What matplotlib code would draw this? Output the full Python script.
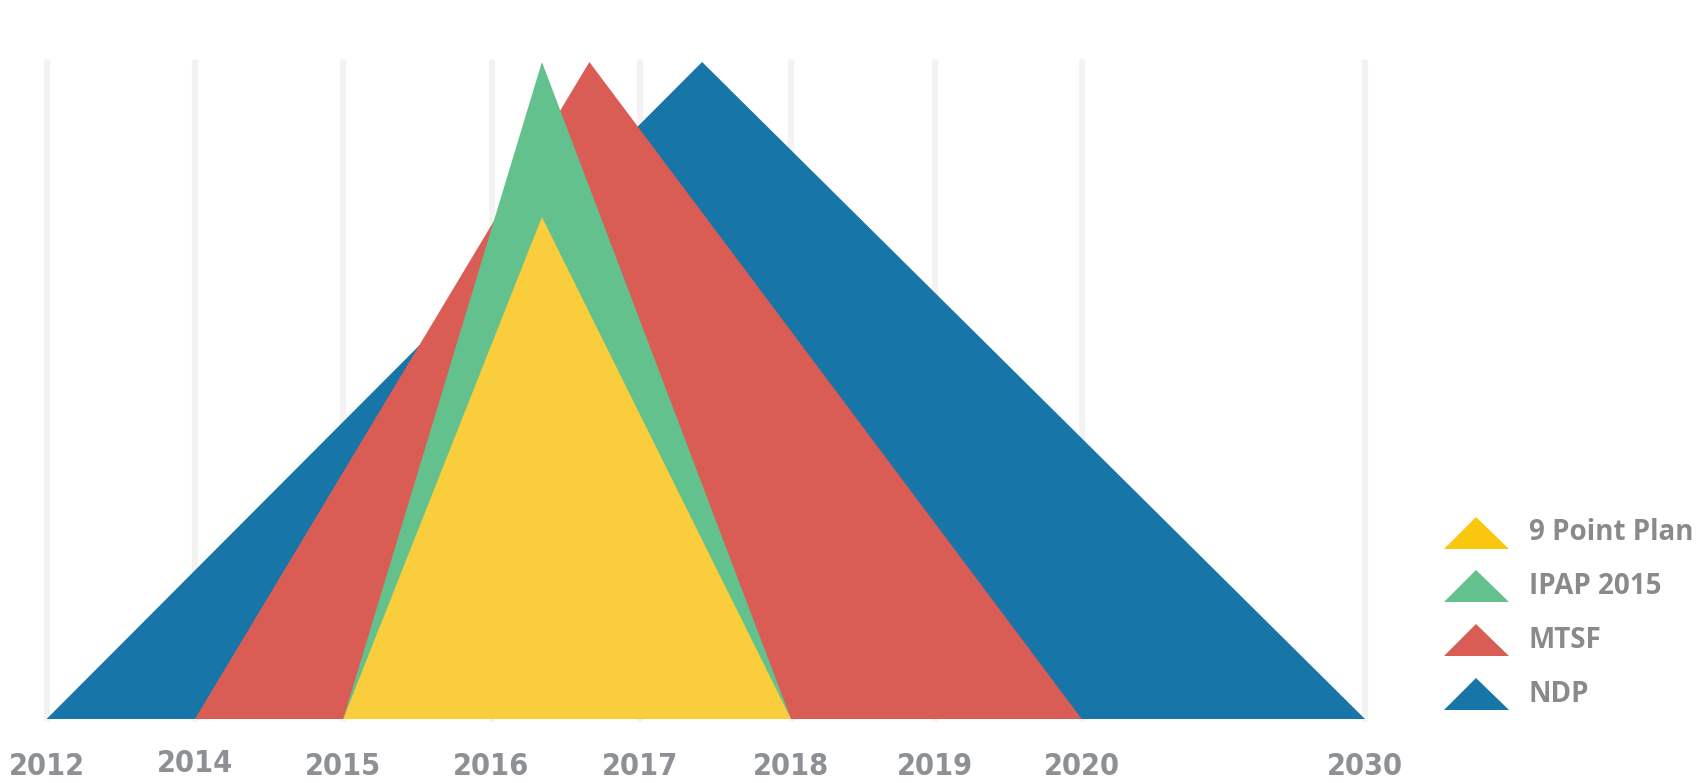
import matplotlib
matplotlib.use("Agg")
import matplotlib.pyplot as plt
from matplotlib.patches import Polygon

# axis categories (year labels) and where they sit on the axis
years = ["2012", "2014", "2015", "2016", "2017", "2018", "2019", "2020", "2030"]
year_pos = [0, 1, 2, 3, 4, 5.02, 5.99, 6.98, 8.89]

# one triangle per plan: start, peak position, end, peak height
plans = ["NDP", "MTSF", "IPAP 2015", "9 Point Plan"]
starts = [0, 1, 2, 2]
peaks = [4.42, 3.66, 3.34, 3.34]
ends = [8.89, 6.98, 5.02, 5.02]
heights = [1.0, 1.0, 1.0, 0.764]
colors = ["#1775a8", "#d95c55", "#62c18c", "#f9cd3b"]
legend_colors = ["#1775a8", "#d95c55", "#62c18c", "#f9c80e"]

W, H = 1699, 783
fig = plt.figure(figsize=(W / 100, H / 100), dpi=100)

unit = 148.3  # px per axis unit
x0_px = 46.6
ax_left, ax_right = 0, 1400
base_px, top_px = 719, 62  # from top
ax = fig.add_axes([ax_left / W, (H - base_px) / H, (ax_right - ax_left) / W, (base_px - top_px) / H])
ax.set_xlim((ax_left - x0_px) / unit, (ax_right - x0_px) / unit)
ax.set_ylim(0, 1)
ax.axis("off")

for p in year_pos:
    ax.plot([p, p], [0, 1], color="#f3f3f3", lw=4.5, solid_capstyle="round", zorder=0, clip_on=False)

for s, pk, e, h, c in zip(starts, peaks, ends, heights, colors):
    ax.add_patch(Polygon([[s, 0], [pk, h], [e, 0]], closed=True, facecolor=c, edgecolor="none", zorder=2))

for i, (p, y) in enumerate(zip(year_pos, years)):
    dy = 0.006 if y == "2014" else 0
    ax.text(p, -0.073 + dy, y, ha="center", va="center", fontsize=22, fontweight="bold",
            fontstretch="condensed", color="#8d9094", family=["DejaVu Sans"], clip_on=False)

# legend drawn by hand on the right, in pixel coordinates
lg = fig.add_axes([0, 0, 1, 1])
lg.set_xlim(0, W)
lg.set_ylim(H, 0)
lg.axis("off")
rows_y = [533, 586, 640, 694]
for name, c, y in zip(plans[::-1], legend_colors[::-1], rows_y):
    lg.add_patch(Polygon([[1444, y + 16], [1476, y - 16], [1509, y + 16]], closed=True,
                         facecolor=c, edgecolor="none"))
    lg.text(1529, y, name, ha="left", va="center", fontsize=20, fontweight="bold",
            color="#8a8a8a", family=["Open Sans", "DejaVu Sans"])

fig.savefig("out.png", dpi=100)
